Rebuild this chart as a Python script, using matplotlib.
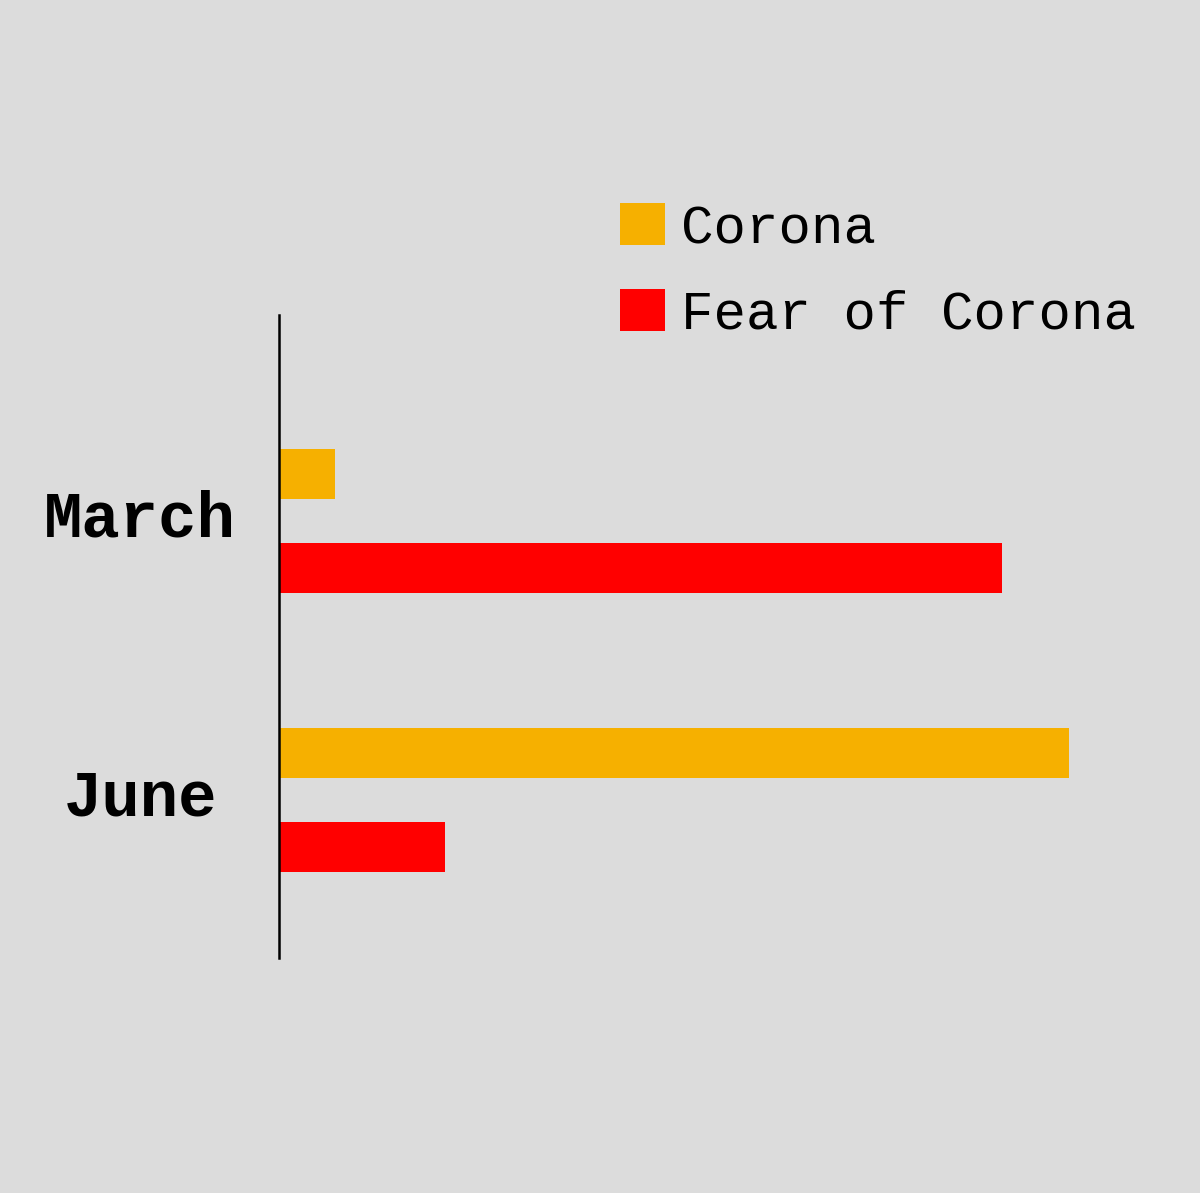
import matplotlib.pyplot as plt
from matplotlib.patches import Patch
import matplotlib.transforms as mtransforms
import numpy as np

# data
months = ['March', 'June']
corona = [6.2, 87.8]
fear = [80.3, 18.4]
series_names = ['Corona', 'Fear of Corona']
colors = ['#F6B000', '#FF0000']

bg = '#dcdcdc'
font = 'Liberation Mono'

fig = plt.figure(figsize=(12, 11.93), dpi=100, facecolor=bg)
ax = fig.add_axes([0.2325, 0.197, 0.75, 0.539])
ax.set_facecolor(bg)

y = np.arange(len(months))
off = 0.168
h = 0.179
ax.barh(y - off, corona, height=h, color=colors[0])
ax.barh(y + off, fear, height=h, color=colors[1])

ax.set_xlim(0, 100)
ax.set_ylim(1.566, -0.738)
ax.set_yticks(y)
ax.set_yticklabels(months, fontfamily=font, fontweight='bold', fontsize=46,
                   ha='center')
ax.tick_params(axis='y', length=0, pad=100)
shift = mtransforms.ScaledTranslation(0, 6 / 72, fig.dpi_scale_trans)
for lbl in ax.get_yticklabels():
    lbl.set_transform(lbl.get_transform() + shift)
ax.set_xticks([])
for s in ['top', 'right', 'bottom']:
    ax.spines[s].set_visible(False)
ax.spines['left'].set_linewidth(1.8)
ax.spines['left'].set_color('black')

handles = [Patch(facecolor=c, edgecolor='none') for c in colors]
fig.legend(handles, series_names, loc='upper left',
           bbox_to_anchor=(620 / 1200, 1 - 203 / 1193),
           frameon=False, borderpad=0, borderaxespad=0,
           prop={'family': font, 'size': 39},
           handlelength=0.83, handleheight=0.83,
           handletextpad=0.3, labelspacing=0.64)

fig.savefig('out.png', dpi=100, facecolor=bg)
